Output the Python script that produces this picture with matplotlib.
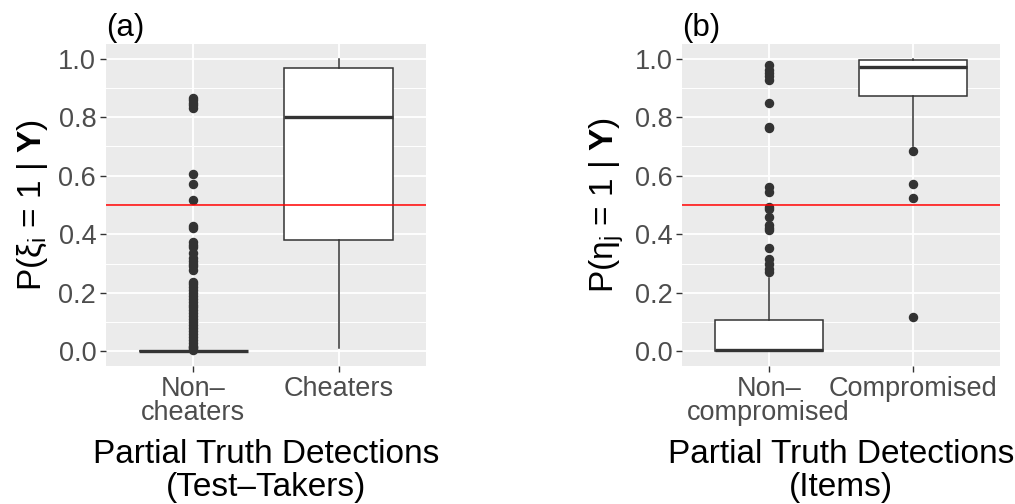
import matplotlib
matplotlib.use('Agg')
import matplotlib.pyplot as plt
import numpy as np

plt.rcParams['font.family'] = ['Liberation Sans', 'DejaVu Sans']
plt.rcParams['mathtext.fontset'] = 'custom'
plt.rcParams['mathtext.rm'] = 'Liberation Sans'
plt.rcParams['mathtext.it'] = 'Liberation Sans:italic'
plt.rcParams['mathtext.bf'] = 'Liberation Sans:bold'

# Panel (a): test-takers
a_labels = ['Non\u2013\ncheaters', 'Cheaters']
a_box = [  # whislo, q1, med, q3, whishi
    [0.0, 0.0, 0.0, 0.0, 0.0],
    [0.012, 0.379, 0.800, 0.968, 1.0],
]
a_out_non = [0.005, 0.01, 0.015, 0.02, 0.03, 0.04, 0.05, 0.06, 0.07, 0.08, 0.09,
             0.10, 0.11, 0.12, 0.13, 0.14, 0.15, 0.16, 0.17, 0.18, 0.19, 0.20,
             0.21, 0.22, 0.23, 0.237, 0.277, 0.29, 0.30, 0.31, 0.32, 0.336,
             0.357, 0.365, 0.374, 0.42, 0.429, 0.517, 0.571, 0.606,
             0.831, 0.84, 0.85, 0.858, 0.865]
a_out_cheat = []

# Panel (b): items
b_labels = ['Non\u2013\ncompromised', 'Compromised']
b_box = [
    [0.0, 0.0, 0.004, 0.106, 0.249],
    [0.70, 0.873, 0.973, 0.997, 1.0],
]
b_out_non = [0.272, 0.283, 0.30, 0.317, 0.352, 0.414, 0.423, 0.432, 0.46, 0.485,
             0.492, 0.546, 0.563, 0.763, 0.768, 0.85, 0.928, 0.94, 0.95, 0.962,
             0.979]
b_out_comp = [0.683, 0.571, 0.525, 0.117]

y_ticks = [0.0, 0.2, 0.4, 0.6, 0.8, 1.0]
y_minor = [0.1, 0.3, 0.5, 0.7, 0.9]

dark = '#333333'
grey30 = '#4D4D4D'


def panel(ax, box, outs, labels, tag, ylabel, xlabel):
    stats = []
    for b, o, lab in zip(box, outs, labels):
        stats.append(dict(whislo=b[0], q1=b[1], med=b[2], q3=b[3], whishi=b[4],
                          fliers=o, label=lab))
    ax.set_facecolor('#EBEBEB')
    for y in y_ticks:
        ax.axhline(y, color='white', lw=1.3, zorder=0)
    for y in y_minor:
        ax.axhline(y, color='white', lw=0.7, zorder=0)
    for x in [1, 2]:
        ax.axvline(x, color='white', lw=1.3, zorder=0)
    ax.bxp(stats, positions=[1, 2], widths=0.75, patch_artist=True,
           showcaps=False,
           boxprops=dict(facecolor='white', edgecolor=dark, lw=1.1),
           whiskerprops=dict(color=dark, lw=1.1),
           medianprops=dict(color=dark, lw=2.4),
           flierprops=dict(marker='o', markerfacecolor=dark, markeredgecolor=dark,
                           markersize=5.8, linestyle='none'),
           zorder=2)
    ax.axhline(0.5, color='red', lw=1.1, zorder=3)
    ax.set_xlim(0.4, 2.6)
    ax.set_ylim(-0.05, 1.05)
    ax.set_yticks(y_ticks)
    ax.set_yticklabels(['%.1f' % v for v in y_ticks])
    ax.set_xticks([1, 2])
    ax.set_xticklabels(labels, linespacing=0.9)
    ax.tick_params(axis='both', colors=dark, labelcolor=grey30, labelsize=19.5,
                   length=4, width=1, pad=3)
    for s in ax.spines.values():
        s.set_visible(False)
    ax.set_ylabel(ylabel, fontsize=24, labelpad=6)
    ax.set_xlabel(xlabel, fontsize=24, labelpad=9.5, linespacing=1.1)
    ax.set_title(tag, loc='left', fontsize=22.5, pad=6)


fig = plt.figure(figsize=(10.15, 5.04), dpi=100)
ax1 = fig.add_axes([0.1044, 0.2738, 0.3153, 0.6389])
ax2 = fig.add_axes([0.6719, 0.2738, 0.3133, 0.6389])

panel(ax1, a_box, [a_out_non, a_out_cheat], a_labels, '(a)',
      r'P($\mathrm{\xi_i}$ = 1 | $\mathbf{Y}$)',
      'Partial Truth Detections\n(Test\u2013Takers)')
panel(ax2, b_box, [b_out_non, b_out_comp], b_labels, '(b)',
      r'P($\mathrm{\eta_j}$ = 1 | $\mathbf{Y}$)',
      'Partial Truth Detections\n(Items)')

fig.savefig('out.png', dpi=100)
